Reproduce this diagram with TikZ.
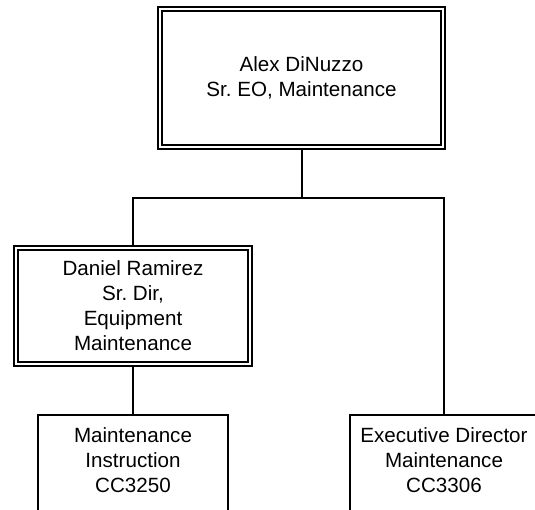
\documentclass[tikz,border=0pt]{standalone}
\usepackage{fontspec}
\setmainfont{Liberation Sans}
\usetikzlibrary{positioning}
\newcommand{\orgfont}{\fontsize{20.6}{25}\selectfont\frenchspacing}
\tikzset{
    person/.style={draw, double, double distance=2pt, line width=2pt, outer sep=3pt, align=center, font=\orgfont},
    unit/.style={draw, line width=2pt, outer sep=1pt, align=center, anchor=north, minimum height=116pt, font=\orgfont},
    link/.style={line width=2pt}
}

\begin{document}
\begin{tikzpicture}[x=1pt, y=-1pt]
\useasboundingbox (0,0) rectangle (535,509);
\clip (0,0) rectangle (535,509);
\node[person, minimum width=283pt, minimum height=138pt] (alex) at (301.5,78) {Alex DiNuzzo\\Sr. EO, Maintenance};
\node[person, minimum width=234pt, minimum height=116pt] (daniel) at (133,306) {Daniel Ramirez\\Sr. Dir,\\Equipment\\Maintenance};
\node[unit, minimum width=190pt] (instr) at (133,414) {Maintenance\\Instruction\\CC3250\\\mbox{}};
\node[unit, minimum width=188pt] (exec) at (444,414) {Executive Director\\Maintenance\\CC3306\\\mbox{}};
% reporting lines
\coordinate (bus) at (301.5,198);
\draw[link] (alex.south) -- (alex.south |- bus);
\draw[link] (daniel.north) |- (exec.north |- bus) -- (exec.north);
\draw[link] (daniel.south) -- (instr.north);
\end{tikzpicture}
\end{document}
